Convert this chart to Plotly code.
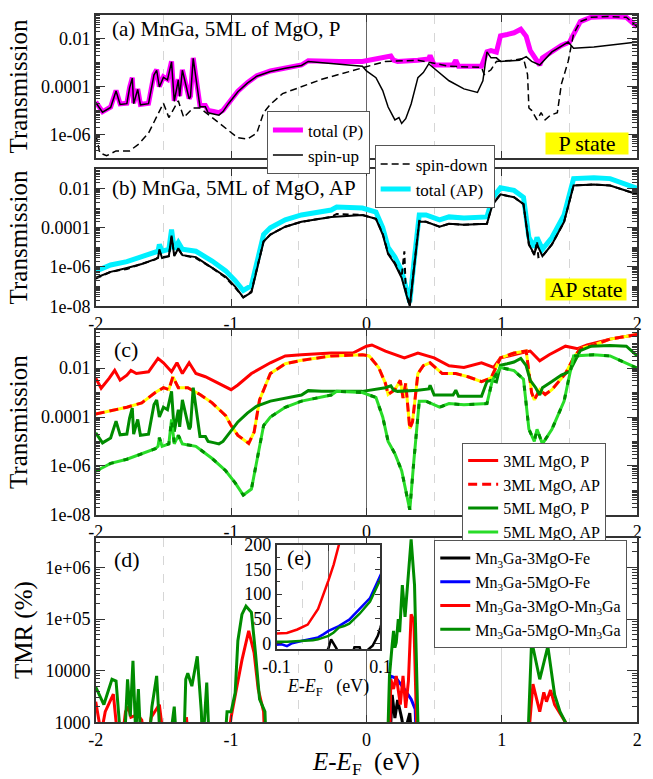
import numpy as np
import plotly.graph_objects as go

FONT = "Liberation Serif"
W, H = 653, 779

# ---------------- data (energies in eV, transmission as log10 values) ----------------
# panel (a): P state of MnGa / 5ML MgO  (also "5ML MgO, P" in panel c)
E_totP = [-2.00, -1.95, -1.89, -1.85, -1.82, -1.77, -1.75, -1.73, -1.72, -1.69, -1.67, -1.61, -1.57,
          -1.55, -1.53, -1.50, -1.47, -1.44, -1.42, -1.39, -1.38, -1.36, -1.31, -1.30, -1.28, -1.25,
          -1.23, -1.19, -1.17, -1.13, -1.09, -1.06, -1.02, -0.95, -0.88, -0.81, -0.71, -0.60, -0.48,
          -0.43, -0.33, -0.20, -0.03, 0.14, 0.18, 0.20, 0.23, 0.38, 0.46, 0.47, 0.50, 0.64, 0.66,
          0.68, 0.85, 0.89, 0.92, 0.96, 0.99, 1.04, 1.09, 1.14, 1.18, 1.21, 1.25, 1.28, 1.30, 1.37,
          1.44, 1.50, 1.53, 1.58, 1.66, 1.80, 1.92, 2.00]
logT_totP = [-4.65, -5.06, -4.86, -4.17, -4.73, -4.70, -4.04, -3.63, -4.70, -4.10, -4.75, -4.70, -3.50,
             -3.30, -4.00, -3.60, -3.70, -2.95, -4.60, -3.70, -4.40, -3.30, -4.50, -4.40, -2.80, -3.90,
             -4.80, -4.80, -5.00, -5.05, -5.10, -5.00, -4.70, -4.20, -3.84, -3.55, -3.35, -3.22, -3.10,
             -2.92, -2.95, -2.95, -2.95, -2.80, -2.72, -2.90, -2.95, -2.90, -2.85, -2.70, -3.10, -3.10, -2.90,
             -3.15, -3.15, -2.55, -2.50, -2.56, -1.88, -1.82, -1.75, -1.60, -1.90, -2.50, -2.80, -3.10, -2.80, -2.55,
             -2.28, -2.14, -1.80, -1.28, -1.10, -1.07, -1.10, -1.50]

E_upP = [-2.00, -1.95, -1.89, -1.85, -1.82, -1.77, -1.75, -1.73, -1.72, -1.69, -1.67, -1.61, -1.57,
         -1.55, -1.53, -1.50, -1.47, -1.44, -1.42, -1.39, -1.38, -1.36, -1.31, -1.30, -1.28, -1.25,
         -1.23, -1.19, -1.17, -1.13, -1.09, -1.06, -1.02, -0.95, -0.88, -0.81, -0.71, -0.60, -0.48,
         -0.43, -0.33, -0.20, -0.03, 0.00, 0.07, 0.12, 0.16, 0.21, 0.24, 0.26, 0.29, 0.33, 0.36, 0.38,
         0.42, 0.46, 0.47, 0.52, 0.61, 0.72, 0.82, 0.86, 0.89, 0.92, 0.96, 0.99, 1.13, 1.18, 1.22,
         1.28, 1.37, 1.49, 1.53, 1.68, 1.80, 2.00]
logT_upP = [-4.67, -5.08, -4.88, -4.19, -4.75, -4.72, -4.06, -3.65, -4.72, -4.12, -4.77, -4.72, -3.52,
            -3.32, -4.02, -3.62, -3.72, -2.97, -4.62, -3.72, -4.42, -3.32, -4.52, -4.42, -2.82, -3.92,
            -4.85, -4.85, -5.10, -5.15, -5.20, -5.05, -4.72, -4.22, -3.86, -3.57, -3.37, -3.24, -3.12,
            -2.95, -3.00, -3.05, -3.15, -3.35, -3.63, -4.17, -4.86, -5.40, -5.30, -5.55, -5.35, -4.73, -4.10, -3.63,
            -3.42, -3.05, -3.10, -3.35, -3.76, -4.10, -4.25, -3.76, -2.55, -2.80, -2.80, -2.95, -2.90, -2.75, -2.95,
            -3.10, -2.55, -2.14, -2.40, -2.35, -2.28, -2.14]

E_dnP = [-2.00, -1.97, -1.92, -1.85, -1.75, -1.68, -1.61, -1.55, -1.50, -1.46, -1.42, -1.39, -1.35,
         -1.28, -1.23, -1.14, -1.04, -0.95, -0.88, -0.81, -0.76, -0.71, -0.62, -0.48, -0.33, -0.03,
         0.14, 0.38, 0.61, 0.85, 0.87, 0.92, 0.96, 1.09, 1.16, 1.19, 1.20, 1.22, 1.26, 1.29, 1.32,
         1.36, 1.41, 1.44, 1.49, 1.53, 1.58, 1.66, 1.80, 1.92, 2.00]
logT_dnP = [-6.00, -6.78, -6.90, -6.70, -6.70, -6.40, -5.95, -5.27, -4.70, -5.30, -4.90, -4.60, -5.30,
            -4.90, -4.90, -5.30, -5.75, -6.15, -6.20, -5.95, -5.10, -4.75, -4.30, -4.00, -3.70, -3.22,
            -2.95, -2.90, -3.15, -3.20, -3.50, -3.30, -2.95, -2.90, -2.82, -3.50, -4.90, -5.00, -5.40, -5.10, -5.40,
            -5.20, -5.10, -3.90, -2.95, -1.80, -1.28, -1.10, -1.07, -1.10, -1.50]

# panel (b): AP state (also "5ML MgO, AP" in panel c)
E_totAP = [-2.00, -1.89, -1.77, -1.66, -1.56, -1.54, -1.53, -1.51, -1.46, -1.44, -1.42, -1.39, -1.36,
           -1.26, -1.14, -1.04, -0.97, -0.91, -0.85, -0.81, -0.76, -0.71, -0.60, -0.48, -0.26, -0.22,
           -0.03, 0.07, 0.12, 0.16, 0.21, 0.26, 0.29, 0.32, 0.35, 0.39, 0.44, 0.54, 0.61, 0.72, 0.89,
           0.93, 0.99, 1.09, 1.16, 1.20, 1.24, 1.26, 1.30, 1.37, 1.46, 1.53, 1.68, 1.80, 2.00]
logT_totAP = [-6.22, -5.90, -5.73, -5.50, -5.30, -5.20, -4.85, -5.20, -5.10, -4.10, -5.10, -4.75, -5.10,
              -5.20, -5.70, -6.20, -6.70, -7.20, -6.95, -5.80, -4.35, -4.00, -3.60, -3.35, -3.10, -2.95,
              -3.00, -3.20, -4.00, -5.00, -5.50, -6.20, -6.95, -7.80, -5.80, -3.35, -3.35, -3.60, -3.45, -3.50, -3.45,
              -2.50, -1.97, -2.10, -2.45, -4.50, -5.00, -4.50, -5.10, -4.50, -3.35, -1.50, -1.45, -1.50, -2.00]

E_upAP = [-2.00, -1.89, -1.77, -1.66, -1.56, -1.54, -1.53, -1.51, -1.46, -1.44, -1.42, -1.39, -1.36,
          -1.26, -1.14, -1.04, -0.97, -0.91, -0.85, -0.81, -0.76, -0.71, -0.60, -0.48, -0.26, -0.03,
          0.07, 0.12, 0.16, 0.21, 0.26, 0.29, 0.32, 0.35, 0.39, 0.44, 0.54, 0.61, 0.72, 0.89, 0.93,
          0.99, 1.09, 1.16, 1.20, 1.24, 1.26, 1.30, 1.37, 1.46, 1.53, 1.68, 1.80, 2.00]
logT_upAP = [-6.55, -6.25, -6.05, -5.85, -5.60, -5.55, -5.10, -5.55, -5.45, -4.40, -5.45, -5.05, -5.40,
             -5.50, -6.05, -6.50, -7.00, -7.55, -7.30, -6.15, -4.70, -4.35, -3.95, -3.70, -3.45, -3.35,
             -3.55, -4.35, -5.35, -5.85, -6.55, -7.30, -8.00, -6.15, -3.70, -3.70, -3.95, -3.80, -3.85, -3.80, -2.85,
             -2.30, -2.45, -2.80, -4.85, -5.35, -4.85, -5.45, -4.85, -3.70, -1.85, -1.80, -1.85, -2.30]

E_dnAP = [-2.00, -1.89, -1.77, -1.66, -1.56, -1.54, -1.53, -1.51, -1.46, -1.44, -1.42, -1.39, -1.36,
          -1.26, -1.14, -1.04, -0.97, -0.91, -0.85, -0.81, -0.76, -0.71, -0.60, -0.48, -0.26, -0.22,
          -0.03, 0.07, 0.12, 0.16, 0.21, 0.26, 0.28, 0.29, 0.32, 0.35, 0.39, 0.44, 0.54, 0.61, 0.72,
          0.89, 0.93, 0.99, 1.09, 1.16, 1.20, 1.24, 1.26, 1.27, 1.30, 1.37, 1.46, 1.53, 1.68, 1.80, 2.00]
logT_dnAP = [-6.60, -6.25, -6.10, -5.85, -5.62, -5.50, -5.20, -5.50, -5.45, -4.50, -5.40, -5.10, -5.40,
             -5.55, -6.05, -6.55, -7.05, -7.55, -7.25, -6.10, -4.70, -4.35, -3.95, -3.70, -3.45, -3.30,
             -3.35, -3.55, -4.30, -5.30, -5.80, -6.50, -5.20, -7.20, -8.00, -6.10, -3.65, -3.70, -3.95, -3.80, -3.85,
             -3.80, -2.80, -2.30, -2.45, -2.80, -4.85, -5.40, -4.70, -5.50, -5.45, -4.85, -3.70, -1.85, -1.80, -1.85, -2.30]

# panel (c): 3ML MgO
E_3P = [-2.00, -1.96, -1.90, -1.86, -1.82, -1.77, -1.74, -1.70, -1.61, -1.54, -1.50, -1.44, -1.40,
        -1.36, -1.31, -1.26, -1.19, -1.09, -1.00, -0.95, -0.85, -0.71, -0.60, -0.48, -0.26, -0.10,
        0.00, 0.04, 0.14, 0.28, 0.38, 0.50, 0.61, 0.72, 0.85, 0.94, 0.99, 1.14, 1.21, 1.28, 1.35,
        1.47, 1.56, 1.63, 1.80, 2.00]
logT_3P = [-2.41, -2.82, -2.41, -2.09, -2.49, -2.29, -2.09, -2.22, -2.15, -1.60, -1.78, -2.15, -1.78,
           -2.22, -1.78, -2.22, -2.35, -2.62, -2.88, -2.69, -2.22, -1.78, -1.50, -1.45, -1.38, -1.38,
           -1.10, -1.05, -1.30, -1.58, -1.38, -1.58, -1.90, -1.97, -1.78, -1.97, -1.58, -1.38, -1.30, -1.70, -1.45,
           -1.10, -1.20, -1.05, -0.81, -0.62]

E_3AP = [-2.00, -1.90, -1.77, -1.66, -1.56, -1.50, -1.46, -1.43, -1.39, -1.32, -1.23, -1.14, -1.04,
         -1.00, -0.95, -0.87, -0.83, -0.79, -0.71, -0.60, -0.48, -0.26, -0.03, 0.02, 0.09, 0.14, 0.16,
         0.21, 0.25, 0.27, 0.29, 0.32, 0.34, 0.38, 0.42, 0.47, 0.56, 0.66, 0.75, 0.85, 0.92, 0.99,
         1.09, 1.18, 1.22, 1.24, 1.28, 1.32, 1.37, 1.47, 1.53, 1.58, 1.68, 1.80, 2.00]
logT_3AP = [-3.88, -3.75, -3.60, -3.42, -3.00, -2.80, -2.88, -2.35, -2.80, -2.80, -3.08, -3.42, -3.95,
            -4.35, -4.75, -5.08, -4.62, -3.30, -2.22, -1.82, -1.68, -1.50, -1.45, -1.50, -1.97, -2.62, -3.08,
            -2.88, -2.50, -3.22, -2.62, -4.48, -4.20, -2.22, -1.90, -1.78, -2.22, -2.22, -2.35, -2.55, -2.40, -1.58,
            -1.38, -1.30, -3.00, -3.30, -2.88, -3.08, -2.88, -2.22, -1.58, -1.20, -1.05, -0.81, -0.62]

# panels (d)/(e): TMR in %
E_tmr_3Fe = [-2.00, -0.30, -0.10, -0.01, 0.00, 0.005, 0.015, 0.025, 0.045, 0.05, 0.06, 0.065, 0.075,
             0.085, 0.095, 0.10, 0.17, 0.19, 0.21, 0.23, 0.26, 0.28, 0.32, 0.34, 2.00]
tmr_3Fe = [50, 50, -40, -30, -10, 8, -10, -30, -25, -8, -8, -25, -14,
           -5, 15, 32, 300, 3400, 1200, 2700, 1200, 600, 1500, 300, 50]

E_tmr_5Fe = [-2.00, -0.30, -0.10, -0.09, -0.08, -0.07, -0.05, -0.03, -0.02, -0.01, 0.00, 0.02, 0.04,
             0.06, 0.08, 0.09, 0.10, 0.17, 0.175, 0.22, 0.28, 0.33, 0.36, 0.37, 2.00]
tmr_5Fe = [50, 50, -3, -2, -6, 0, 5, 10, 12, 18, 25, 35, 48,
           70, 92, 115, 140, 300, 7900, 7100, 4400, 2800, 1800, 300, 50]

E_tmr_3Mn = [-2.00, -1.96, -1.93, -1.87, -1.83, -1.80, -1.78, -1.76, -1.74, -1.69, -1.66, -1.63, -1.59,
             -1.53, -1.49, -1.34, -1.33, -1.31, -1.03, -1.00, -0.96, -0.92, -0.87, -0.83, -0.80, -0.76,
             -0.75, -0.30, -0.10, -0.08, -0.06, -0.04, -0.02, 0.00, 0.01, 0.02, 0.03, 0.10, 0.17, 0.18,
             0.20, 0.22, 0.25, 0.27, 0.29, 0.31, 0.33, 0.35, 0.375, 1.19, 1.23, 1.28, 1.31, 1.33, 1.36,
             1.39, 1.44, 1.47, 1.48, 2.00]
tmr_3Mn = [2500, 600, 1600, 3500, 300, 600, 1600, 2000, 1250, 1400, 1100, 300, 1250,
           2200, 300, 300, 1250, 300, 300, 1250, 4500, 16000, 59000, 22000, 4400, 1600,
           300, 100, 20, 21, 28, 38, 70, 128, 160, 200, 250, 500, 300, 6800,
           4400, 7900, 2200, 7900, 1900, 6300, 123000, 93000, 300, 300, 5500, 1600, 3800, 2500, 4200,
           2200, 1300, 1000, 300, 300]

E_tmr_5Mn = [-2.00, -1.94, -1.88, -1.85, -1.81, -1.79, -1.765, -1.745, -1.725, -1.705, -1.685, -1.665,
             -1.61, -1.585, -1.55, -1.52, -1.46, -1.42, -1.40, -1.35, -1.335, -1.32, -1.29, -1.25, -1.22,
             -1.21, -1.18, -1.16, -1.05, -1.03, -1.00, -0.97, -0.95, -0.92, -0.89, -0.85, -0.82, -0.79,
             -0.75, -0.74, -0.30, -0.10, -0.08, -0.05, -0.03, -0.02, 0.00, 0.01, 0.02, 0.03, 0.04, 0.06,
             0.08, 0.10, 0.155, 0.17, 0.18, 0.19, 0.20, 0.21, 0.22, 0.235, 0.245, 0.265, 0.285, 0.33,
             0.355, 0.385, 1.19, 1.22, 1.28, 1.34, 1.39, 1.43, 1.47, 1.48, 2.00]
tmr_5Mn = [4800, 2200, 6800, 6300, 300, 300, 6800, 1300, 15500, 600, 4400, 300,
           300, 2000, 7900, 300, 300, 2000, 300, 300, 6800, 8900, 5000, 19000, 1600,
           300, 5900, 300, 300, 1600, 1600, 3700, 38000, 123000, 178000, 135000, 22000, 2800,
           1600, 300, 100, 3, 3, 4, 6, 8, 15, 22, 32, 35, 40, 60,
           85, 130, 300, 7900, 19000, 32000, 59000, 28000, 35000, 100000, 56000, 457000, 110000, 3500000,
           457000, 300, 300, 38000, 6800, 29500, 3400, 1600, 1000, 300, 300]

# tick labels
x_ticks = [-2, -1, 0, 1, 2]
x_ticktext = ["-2", "-1", "0", "1", "2"]
x_ticktext_c = ["-2", "-1", "0", "", "2"]   # "1" hidden behind the legend in panel (c)
T_ticks = [1e-8, 1e-6, 1e-4, 1e-2]
T_ticktext = ["1e-08", "1e-06", "0.0001", "0.01"]
TMR_ticks = [1e3, 1e4, 1e5, 1e6]
TMR_ticktext = ["1000", "10000", "1e+05", "1e+06"]


def tp(v):
    return np.power(10.0, np.asarray(v, dtype=float))


MAGENTA = "#ff00ff"
CYAN = "#00f0ff"
RED = "#ff0000"
YELLOW = "#ffff00"
DKGREEN = "rgb(0,140,0)"
LTGREEN = "rgb(40,220,40)"
BLUE = "#0000ff"

fig = go.Figure()

# ---- panel (a)
fig.add_trace(go.Scatter(x=E_totP, y=tp(logT_totP), mode="lines", name="total (P)",
                         line=dict(color=MAGENTA, width=5), xaxis="x", yaxis="y", legend="legend"))
fig.add_trace(go.Scatter(x=E_upP, y=tp(logT_upP), mode="lines", name="spin-up",
                         line=dict(color="black", width=1.5), xaxis="x", yaxis="y", legend="legend"))
fig.add_trace(go.Scatter(x=E_dnP, y=tp(logT_dnP), mode="lines", name="spin-down",
                         line=dict(color="black", width=1.5, dash="7px,4px"), xaxis="x", yaxis="y",
                         legend="legend2"))
# ---- panel (b)
fig.add_trace(go.Scatter(x=E_totAP, y=tp(logT_totAP), mode="lines", name="total (AP)",
                         line=dict(color=CYAN, width=5), xaxis="x2", yaxis="y2", legend="legend2"))
fig.add_trace(go.Scatter(x=E_upAP, y=tp(logT_upAP), mode="lines", showlegend=False,
                         line=dict(color="black", width=2), xaxis="x2", yaxis="y2"))
fig.add_trace(go.Scatter(x=E_dnAP, y=tp(logT_dnAP), mode="lines", showlegend=False,
                         line=dict(color="black", width=2, dash="6px,4px"), xaxis="x2", yaxis="y2"))
# ---- panel (c)
fig.add_trace(go.Scatter(x=E_3P, y=tp(logT_3P), mode="lines", name="3ML MgO, P",
                         line=dict(color=RED, width=3), xaxis="x3", yaxis="y3", legend="legend3"))
fig.add_trace(go.Scatter(x=E_3AP, y=tp(logT_3AP), mode="lines", showlegend=False,
                         line=dict(color=YELLOW, width=3), xaxis="x3", yaxis="y3"))
fig.add_trace(go.Scatter(x=E_3AP, y=tp(logT_3AP), mode="lines", name="3ML MgO, AP",
                         line=dict(color=RED, width=3, dash="9px,5px"), xaxis="x3", yaxis="y3",
                         legend="legend3"))
fig.add_trace(go.Scatter(x=E_totP, y=tp(logT_totP), mode="lines", name="5ML MgO, P",
                         line=dict(color=DKGREEN, width=3), xaxis="x3", yaxis="y3", legend="legend3"))
fig.add_trace(go.Scatter(x=E_totAP, y=tp(logT_totAP), mode="lines", name="5ML MgO, AP",
                         line=dict(color=LTGREEN, width=3), xaxis="x3", yaxis="y3", legend="legend3"))
fig.add_trace(go.Scatter(x=E_totAP, y=tp(logT_totAP), mode="lines", showlegend=False,
                         line=dict(color=DKGREEN, width=3, dash="5px,10px"), xaxis="x3", yaxis="y3"))

# ---- panel (d) and inset (e)
tmr_series = [
    ("Mn<sub>3</sub>Ga-3MgO-Fe", E_tmr_3Fe, tmr_3Fe, "black"),
    ("Mn<sub>3</sub>Ga-5MgO-Fe", E_tmr_5Fe, tmr_5Fe, BLUE),
    ("Mn<sub>3</sub>Ga-3MgO-Mn<sub>3</sub>Ga", E_tmr_3Mn, tmr_3Mn, RED),
    ("Mn<sub>3</sub>Ga-5MgO-Mn<sub>3</sub>Ga", E_tmr_5Mn, tmr_5Mn, DKGREEN),
]
for name, ex, ty, col in tmr_series:
    fig.add_trace(go.Scatter(x=ex, y=ty, mode="lines", name=name, line=dict(color=col, width=3),
                             xaxis="x4", yaxis="y4", legend="legend4"))
for name, ex, ty, col in tmr_series:
    fig.add_trace(go.Scatter(x=ex, y=ty, mode="lines", showlegend=False, line=dict(color=col, width=2.5),
                             xaxis="x5", yaxis="y5"))

# ---------------- layout ----------------
def py(p):
    return 1 - p / H


XD = [85 / W, 648 / W]
AX = "#333333"
GRID = "#d6d6d6"
tickfont = dict(family=FONT, size=18, color="black")
minor_log = [k * 10.0 ** n for n in range(-9, 7) for k in range(1, 10)]


def xax(domain, anchor, labels, ttext=x_ticktext):
    return dict(domain=domain, anchor=anchor, range=[-2, 2], tickmode="array", tickvals=x_ticks,
                ticktext=ttext, showticklabels=labels, ticks="inside", ticklen=7, tickwidth=1,
                tickcolor=AX, showline=True, linecolor=AX, linewidth=1.5, mirror="allticks",
                showgrid=True, gridcolor=GRID, gridwidth=1, zeroline=True, zerolinecolor="#666666",
                zerolinewidth=1.2, tickfont=tickfont,
                minor=dict(tickmode="array", tickvals=[-1.5, -0.5, 0.5, 1.5], ticks="", showgrid=True,
                           gridcolor=GRID, griddash="dash", gridwidth=1))


def yax(domain, anchor, rng, tv, tt, title):
    return dict(domain=domain, anchor=anchor, type="log", range=rng, tickmode="array", tickvals=tv,
                ticktext=tt, ticks="inside", ticklen=10, tickwidth=1, tickcolor=AX, showline=True,
                linecolor=AX, linewidth=1.5, mirror="allticks", showgrid=False, zeroline=False,
                tickfont=tickfont,
                title=dict(text=title, font=dict(family=FONT, size=25, color="black"), standoff=6),
                minor=dict(tickmode="array", tickvals=minor_log, ticks="inside", ticklen=5,
                           tickcolor=AX, showgrid=False))


layout = dict(
    width=W, height=H, margin=dict(l=0, r=0, t=0, b=0), paper_bgcolor="white", plot_bgcolor="white",
    font=dict(family=FONT, size=18, color="black"),
    xaxis=xax(XD, "y", False),
    yaxis=yax([py(152), py(5)], "x", [-7, -1], T_ticks[1:], T_ticktext[1:], "Transmission"),
    xaxis2=xax(XD, "y2", True),
    yaxis2=yax([py(304), py(163)], "x2", [-8, -1], T_ticks, T_ticktext, "Transmission"),
    xaxis3=xax(XD, "y3", True, x_ticktext_c),
    yaxis3=yax([py(518), py(328)], "x3", [-8, -0.42], T_ticks, T_ticktext, "Transmission"),
    xaxis4=xax(XD, "y4", True),
    yaxis4=yax([py(731), py(542)], "x4", [3, 6.57], TMR_ticks, TMR_ticktext, "TMR (%)"),
    xaxis5=dict(domain=[273 / W, 381 / W], anchor="y5", range=[-0.1, 0.1], tickmode="array",
                tickvals=[-0.1, 0, 0.1], ticktext=["-0.1", "0", "0.1"], ticks="inside", ticklen=6,
                tickcolor=AX, showline=True, linecolor=AX, linewidth=1.5, mirror="allticks",
                showgrid=False, zeroline=True, zerolinecolor="#666666", zerolinewidth=1.2,
                tickfont=tickfont,
                minor=dict(tickmode="array", tickvals=[-0.05, 0.05], ticks="", showgrid=True,
                           gridcolor=GRID, griddash="dash"),
                title=dict(text="<i>E</i>-<i>E</i><sub>F</sub>   (eV)", font=dict(family=FONT, size=18),
                           standoff=2)),
    yaxis5=dict(domain=[py(656), py(549)], anchor="x5", range=[-12, 200], tickmode="array",
                tickvals=[0, 50, 100, 150, 200], ticks="inside", ticklen=6, tickcolor=AX, showline=True,
                linecolor=AX, linewidth=1.5, mirror="allticks", showgrid=False, zeroline=False,
                tickfont=tickfont,
                minor=dict(tickmode="array", tickvals=[25, 75, 125, 175], ticks="inside", ticklen=4,
                           tickcolor=AX)),
)
fig.update_layout(**layout)
fig.update_layout(xaxis4_title=dict(text="<i>E</i>-<i>E</i><sub>F</sub>  (eV)",
                                    font=dict(family=FONT, size=25, color="black"), standoff=4))

leg = dict(xanchor="left", yanchor="top", bgcolor="white", bordercolor="#555555", borderwidth=1,
           itemwidth=30, tracegroupgap=0, xref="paper", yref="paper")
fig.update_layout(
    legend=dict(leg, x=263 / W, y=py(104), font=dict(family=FONT, size=17)),
    legend2=dict(leg, x=375 / W, y=py(139), font=dict(family=FONT, size=17)),
    legend3=dict(leg, x=466 / W, y=py(444), font=dict(family=FONT, size=16)),
    legend4=dict(leg, x=437 / W, y=py(544), font=dict(family=FONT, size=16)),
)

ann_font = dict(family=FONT, color="black")
annotations = [
    dict(text="(a) MnGa, 5ML of MgO, P", x=100 / W, y=py(20), size=21),
    dict(text="(b) MnGa, 5ML of MgO, AP", x=100 / W, y=py(183), size=21),
    dict(text="(c)", x=102 / W, y=py(348), size=22),
    dict(text="(d)", x=102 / W, y=py(564), size=22),
    dict(text="(e)", x=282 / W, y=py(562), size=22),
]
for a in annotations:
    fig.add_annotation(text=a["text"], x=a["x"], y=a["y"], xref="paper", yref="paper", xanchor="left",
                       yanchor="middle", showarrow=False, font=dict(ann_font, size=a["size"]))
for txt, cx, cy, w in [("P state", 596, 137, 82), ("AP state", 595, 287, 80)]:
    fig.add_annotation(text=txt, x=cx / W, y=py(cy), xref="paper", yref="paper", xanchor="center",
                       yanchor="middle", showarrow=False, bgcolor=YELLOW, width=w, height=21, borderpad=0,
                       font=dict(ann_font, size=22))

fig.write_html("out.html")
